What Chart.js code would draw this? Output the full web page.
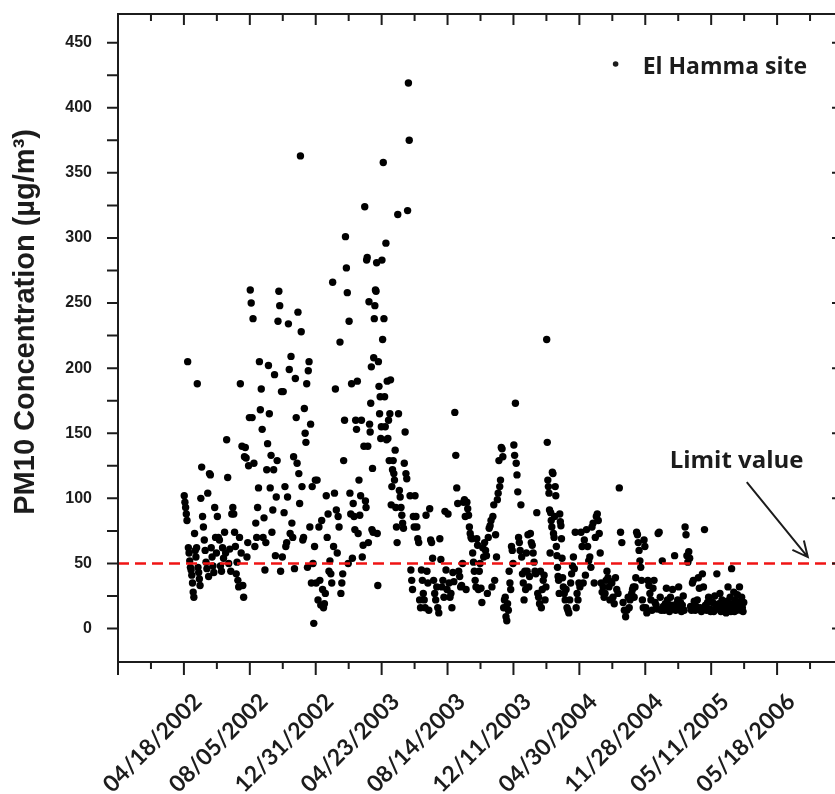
<!DOCTYPE html>
<html>
<head>
<meta charset="utf-8">
<style>
  html, body { margin: 0; padding: 0; background: #fff; overflow: hidden; }
  #wrap { width: 850px; height: 794px; }
</style>
</head>
<body>
<div id="wrap"><canvas id="chart" width="850" height="794"></canvas></div>
<script src="https://cdn.jsdelivr.net/npm/chart.js"></script>
<script>
const tickLabels = ['', '04/18/2002', '08/05/2002', '12/31/2002', '04/23/2003', '08/14/2003',
    '12/11/2003', '04/30/2004', '11/28/2004', '05/11/2005', '05/18/2006', ''];
const yTicks = [0, 50, 100, 150, 200, 250, 300, 350, 400, 450];
const limitValue = 50;

// PM10 (µg/m3), one array per tick interval, split in quarters
const apr2002 = [
    [102, 97, 93, 88, 83, 205, 62, 58, 52, 47, 45, 41, 35, 28, 24, 73, 60, 55, 62, 188, 47, 43, 38, 33],
    [100, 124, 86, 78, 68, 60, 51, 46, 104, 40, 119, 118, 62, 55, 48, 43, 93, 70, 58],
    [86, 70, 68, 48, 44, 62, 54, 74, 58, 145, 116, 50, 61, 44, 88, 93],
    [88, 74, 63, 42, 51, 37, 32, 70, 188, 58, 140, 33, 24, 132, 139, 131, 55, 66, 125, 162]
];
const aug2002 = [
    [260, 250, 162, 238, 127, 63, 81, 70, 93, 108, 205, 168, 184, 153, 70, 85, 45, 66],
    [122, 142, 202, 165, 108, 133, 74, 91, 122, 195, 56, 101, 129, 236, 259, 248, 44, 182, 55],
    [182, 89, 109, 63, 66, 101, 234, 199, 73, 209, 81, 70, 132, 46, 192, 162, 127, 243, 119],
    [96, 363, 228, 109, 68, 70, 169, 150, 143, 188, 47, 198, 205, 78, 157, 35, 109, 50, 4, 63, 114]
];
const dec2002 = [
    [35, 114, 22, 78, 37, 18, 83, 30, 16, 19, 27, 102, 70, 88, 44, 52, 42, 35],
    [266, 63, 104, 184, 91, 58, 86, 78, 220, 27, 35, 42, 129, 160, 301, 277, 258, 50],
    [236, 104, 88, 188, 54, 96, 86, 76, 160, 153, 190, 73, 114, 87, 102, 160, 55, 64, 140, 324],
    [98, 93, 283, 285, 140, 66, 251, 157, 151, 173, 201, 76, 123, 74, 208, 238, 248, 260, 259, 281, 73, 33, 205, 186, 165, 178, 146, 155]
];
const apr2003 = [
    [283, 222, 358, 238, 178, 155, 296, 145, 190, 146, 160, 129, 165, 191, 95, 109, 122, 129, 119, 114, 137, 93, 78, 66, 318],
    [165, 106, 101, 93, 87, 81, 77, 127, 151, 119, 115, 321, 419, 375, 102, 45, 37, 30, 86, 78],
    [102, 86, 78, 69, 66, 22, 16, 45, 37, 27, 22, 16, 87, 44, 35, 14, 92, 68],
    [66, 54, 37, 27, 22, 32, 16, 12, 69, 53, 32, 37, 24, 90, 45, 30]
];
const aug2003 = [
    [88, 35, 24, 27, 16, 43, 36, 166, 133, 108, 96, 44, 40, 32, 33, 50, 97],
    [99, 86, 30, 97, 92, 87, 78, 73, 70, 69, 58, 51, 44, 37, 32, 69, 64, 30, 44, 50],
    [31, 20, 62, 55, 66, 60, 56, 27, 70, 77, 79, 83, 32, 86, 95, 37, 72, 55],
    [99, 104, 129, 109, 114, 139, 138, 132, 16, 22, 24, 9, 6, 19, 14, 44, 35, 30, 63, 60, 50]
];
const dec2003 = [
    [141, 133, 173, 127, 118, 105, 70, 66, 60, 95, 55, 42, 35, 22, 44, 30, 58, 44, 72, 32, 40],
    [73, 66, 64, 58, 51, 44, 42, 89, 27, 24, 19, 44, 16, 30, 37, 41, 22, 32],
    [222, 143, 114, 109, 104, 91, 58, 89, 83, 78, 120, 119, 73, 70, 86, 109, 102, 63, 56, 47, 40, 37, 27, 88, 82, 79, 69, 54, 39],
    [32, 27, 22, 30, 16, 14, 12, 22, 35, 42, 48, 55, 46, 74, 16, 27, 22, 35]
];
const apr2004 = [
    [32, 74, 63, 35, 68, 41, 76, 63, 52, 55, 47, 78, 81, 35, 70],
    [86, 88, 83, 73, 58, 35, 28, 32, 24, 27, 37, 44, 39, 32, 22, 36, 35],
    [24, 19, 39, 30, 27, 108, 74, 66, 20, 14, 9, 14, 24],
    [16, 22, 24, 27, 30, 32, 24, 32, 39, 74, 72, 66, 60, 52, 47, 37, 22, 16, 68, 63]
];
const nov2004 = [
    [16, 12, 37, 33, 27, 22, 14, 31, 37, 20, 18, 15, 73, 74, 24, 14],
    [52, 17, 14, 19, 31, 22, 15, 13, 24, 18, 30, 16, 56, 14, 19, 22],
    [32, 15, 20, 13, 18, 25, 14, 78, 72, 56, 51, 59, 54, 17, 14, 35, 37, 21],
    [14, 17, 22, 39, 31, 16, 13, 42, 32, 76, 18, 14, 20, 24, 15, 13]
];
const may2005 = [
    [14, 20, 13, 25, 17, 42, 15, 19, 27, 13, 22, 16, 14, 18, 12, 21],
    [32, 17, 14, 24, 13, 46, 19, 15, 28, 13, 22, 17, 14, 26, 15, 20, 32, 18, 14, 24, 16, 13, 20]
];

const periods = [apr2002, aug2002, dec2002, apr2003, aug2003, dec2003, apr2004, nov2004, may2005];

const points = [];
periods.forEach((quarters, k) => {
    quarters.forEach((vals, q) => {
        vals.forEach((v, i) => {
            points.push({ x: k + 1 + (q + (i + 0.5) / vals.length) / 4, y: v });
        });
    });
});

const ink = '#1c1c1c';

const frame = {
    id: 'frame',
    afterDatasetsDraw(chart) {
        const { ctx, chartArea: a, scales: { x, y } } = chart;
        ctx.save();
        ctx.strokeStyle = ink;
        ctx.lineWidth = 2;
        ctx.strokeRect(a.left, a.top, a.right - a.left, a.bottom - a.top);
        ctx.beginPath();
        for (let v = 0; v <= 11; v += 0.5) {
            const px = x.getPixelForValue(v);
            const major = v % 1 === 0;
            ctx.moveTo(px, a.bottom); ctx.lineTo(px, a.bottom + (major ? 13 : 7));
            ctx.moveTo(px, a.top); ctx.lineTo(px, a.top + (major ? 11 : 7));
        }
        for (let v = 0; v <= 450; v += 25) {
            const py = y.getPixelForValue(v);
            ctx.moveTo(a.left - 11, py); ctx.lineTo(a.left, py);
            if (v % 50 === 0) { ctx.moveTo(a.right, py); ctx.lineTo(a.right - 11, py); }
        }
        ctx.stroke();
        ctx.restore();
    }
};

const notes = {
    id: 'notes',
    afterDraw(chart) {
        const { ctx, scales: { x, y } } = chart;
        ctx.save();
        ctx.fillStyle = ink;
        ctx.strokeStyle = ink;
        // legend
        ctx.beginPath();
        ctx.arc(x.getPixelForValue(7.55), y.getPixelForValue(433.6), 2.8, 0, Math.PI * 2);
        ctx.fill();
        ctx.font = 'bold 23px "Open Sans"';
        ctx.textBaseline = 'alphabetic';
        ctx.fillText('El Hamma site', x.getPixelForValue(7.96), y.getPixelForValue(425.9));
        // limit value label and arrow
        ctx.font = 'bold 24px "Open Sans"';
        ctx.fillText('Limit value', x.getPixelForValue(8.37), y.getPixelForValue(123.3));
        const x0 = x.getPixelForValue(9.54), y0 = y.getPixelForValue(112.5);
        const x1 = x.getPixelForValue(10.466), y1 = y.getPixelForValue(54.9);
        const ang = Math.atan2(y1 - y0, x1 - x0);
        ctx.lineWidth = 2;
        ctx.beginPath();
        ctx.moveTo(x0, y0); ctx.lineTo(x1, y1);
        ctx.moveTo(x1 - 17 * Math.cos(ang - 0.45), y1 - 17 * Math.sin(ang - 0.45));
        ctx.lineTo(x1, y1);
        ctx.lineTo(x1 - 17 * Math.cos(ang + 0.45), y1 - 17 * Math.sin(ang + 0.45));
        ctx.stroke();
        ctx.restore();
    }
};

new Chart(document.getElementById('chart'), {
    type: 'scatter',
    data: {
        datasets: [{
            type: 'line',
            label: 'Limit value',
            data: [{ x: 0, y: limitValue }, { x: 11, y: limitValue }],
            borderColor: '#f01414',
            borderWidth: 2.6,
            borderDash: [11, 6],
            pointRadius: 0,
            order: 0
        }, {
            label: 'El Hamma site',
            data: points,
            backgroundColor: '#000',
            borderWidth: 0,
            pointRadius: 3.7,
            order: 1
        }]
    },
    options: {
        responsive: false,
        animation: false,
        layout: { padding: { top: 14, right: 7, left: 0, bottom: 0 } },
        plugins: { legend: { display: false }, tooltip: { enabled: false } },
        scales: {
            x: {
                type: 'linear',
                min: 0,
                max: 11,
                grid: { display: false, drawTicks: false },
                border: { display: false },
                afterFit: s => {
                    s.height = 132;
                    s.paddingLeft = 0; s.paddingRight = 0; s.paddingTop = 0; s.paddingBottom = 0;
                },
                ticks: {
                    stepSize: 1,
                    autoSkip: false,
                    maxRotation: 45,
                    minRotation: 45,
                    padding: 26,
                    labelOffset: 14,
                    color: ink,
                    font: { family: 'Lato', weight: 'bold', size: 23 },
                    callback: v => tickLabels[v] ?? ''
                }
            },
            y: {
                min: -25.7,
                max: 472,
                grid: { display: false, drawTicks: false },
                border: { display: false },
                afterBuildTicks: s => { s.ticks = yTicks.map(v => ({ value: v })); },
                afterFit: s => {
                    s.width = 118;
                    s.paddingLeft = 0; s.paddingRight = 0; s.paddingTop = 0; s.paddingBottom = 0;
                },
                title: {
                    display: true,
                    text: '    PM10 Concentration (µg/m³)',
                    color: ink,
                    font: { family: 'Liberation Sans', weight: 'bold', size: 29 },
                    padding: { top: 9, bottom: 0 }
                },
                ticks: {
                    padding: 26,
                    color: ink,
                    font: { family: 'Liberation Sans', weight: 'bold', size: 16 },
                    callback: v => String(v)
                }
            }
        }
    },
    plugins: [frame, notes]
});
</script>
</body>
</html>
